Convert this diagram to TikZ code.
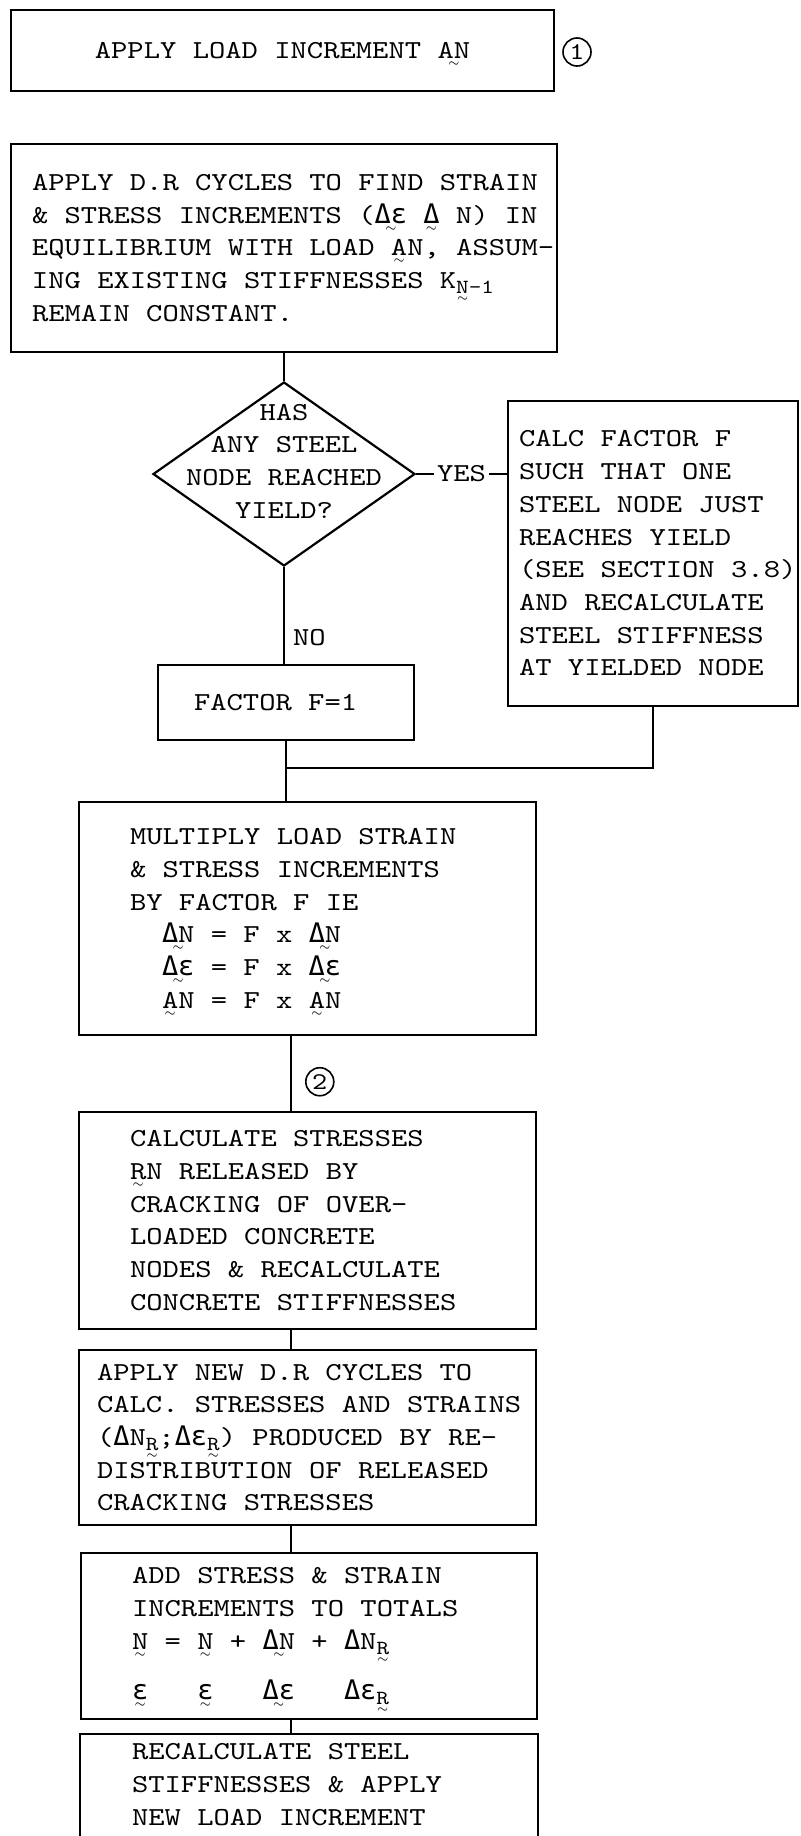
\documentclass[tikz,border=0pt]{standalone}
\usepackage{fontspec}
\setmonofont{lmmono10-regular.otf}[FakeStretch=1.2]
\newfontfamily\grk{DejaVu Sans Mono}[Scale=1.04]
\usetikzlibrary{shapes.geometric, calc}

\newdimen\px \px=0.5pt
% greek letters in a typewriter face
\newcommand{\dlt}{{\grk Δ}}
\newcommand{\eps}{{\grk ε}}
% tilde written under a symbol (vector mark)
\newcommand{\vtil}[1]{\leavevmode{\setbox0\hbox{#1}\rlap{\makebox[\wd0]{\raisebox{-4pt}[0pt][0pt]{\fontsize{6pt}{6pt}\selectfont$\sim$}}}\box0}}
% lowered subscript
\newcommand{\sub}[1]{\raisebox{-0.45ex}{\fontsize{10pt}{10pt}\selectfont #1}}
% left padded block of lines inside a box of given width
\newcommand{\boxlines}[3]{\hspace*{#1\px}\parbox[c]{\dimexpr#2\px-#1\px\relax}{\raggedright #3}}

\begin{document}
\begin{tikzpicture}[
		x=0.5pt, y=-0.5pt, line width=1.1pt,
		every node/.style={font=\ttfamily\fontsize{12.95pt}{16.35pt}\selectfont},
		box/.style={draw, rectangle, inner sep=0pt},
		decision/.style={draw, diamond, inner sep=0pt,
			minimum width=262\px, minimum height=184\px},
		circ/.style={draw, circle, minimum size=28\px, inner sep=0pt,
			line width=0.8pt, font=\ttfamily\fontsize{12pt}{12pt}\selectfont}
		]
		\useasboundingbox (0,0) rectangle (800,1836);
		
		\node[box, minimum width=543\px, minimum height=81\px] (load) at (282.5,50.5)
		{APPLY LOAD INCREMENT \vtil{AN}};
		\node[circ] (one) at (577,52) {1};
		
		\node[box, minimum width=546\px, minimum height=208\px] (dr) at (284,248)
		{\boxlines{21}{546}{APPLY D.R CYCLES TO FIND STRAIN\\
				\& STRESS INCREMENTS (\vtil{\dlt\eps} \vtil{\dlt} N) IN\\
				EQUILIBRIUM WITH LOAD \vtil{A}N, ASSUM-\\
				ING EXISTING STIFFNESSES K\sub{\vtil{N}-1}\\
				REMAIN CONSTANT.}};
		
		\node[decision] (ask) at (284,474) {};
		\node[align=center] (asktext) at (284,461)
		{HAS\\ANY STEEL\\NODE REACHED\\YIELD?};
		
		\node[box, minimum width=290\px, minimum height=305\px] (calc) at (653,553.5)
		{\boxlines{11}{290}{CALC FACTOR F\\
				SUCH THAT ONE\\
				STEEL NODE JUST\\
				REACHES YIELD\\
				(SEE SECTION 3.8)\\
				AND RECALCULATE\\
				STEEL STIFFNESS\\
				AT YIELDED NODE}};
		
		\node[box, minimum width=256\px, minimum height=75\px] (factor) at (286,702.5)
		{\boxlines{36}{256}{FACTOR F=1}};
		\coordinate (join) at (286,768);
		
		\node[box, minimum width=457\px, minimum height=233\px] (mult) at (307.5,918.5)
		{\boxlines{51}{457}{MULTIPLY LOAD STRAIN\\
				\& STRESS INCREMENTS\\
				BY FACTOR F IE\\
				\hspace*{32\px}\vtil{\dlt N} = F x \vtil{\dlt N}\\
				\hspace*{32\px}\vtil{\dlt\eps} = F x \vtil{\dlt\eps}\\
				\hspace*{32\px}\vtil{A}N = F x \vtil{A}N}};
		
		\coordinate (spine) at (291,0);
		
		\node[box, minimum width=457\px, minimum height=217\px] (release) at (307.5,1220.5)
		{\boxlines{51}{457}{CALCULATE STRESSES\\
				\vtil{R}N RELEASED BY\\
				CRACKING OF OVER-\\
				LOADED CONCRETE\\
				NODES \& RECALCULATE\\
				CONCRETE STIFFNESSES}};
		
		\node[box, minimum width=457\px, minimum height=175\px] (redist) at (307.5,1437.5)
		{\boxlines{18}{457}{APPLY NEW D.R CYCLES TO\\
				CALC. STRESSES AND STRAINS\\
				(\dlt N\sub{\vtil{R}};\dlt\eps\sub{\vtil{R}}) PRODUCED BY RE-\\
				DISTRIBUTION OF RELEASED\\
				CRACKING STRESSES}};
		
		\node[box, minimum width=456\px, minimum height=166\px] (totals) at (309,1636)
		{\boxlines{51}{456}{ADD STRESS \& STRAIN\\
				INCREMENTS TO TOTALS\\
				\vtil{N} = \vtil{N} + \vtil{\dlt N} + \dlt N\sub{\vtil{R}}\\[17\px]
				\leavevmode\rlap{\vtil{\eps}}\phantom{N = }\rlap{\vtil{\eps}}\phantom{N + }\rlap{\vtil{\dlt\eps}}\phantom{\dlt N + }\dlt\eps\sub{\vtil{R}}}};
		
		\node[rectangle, inner sep=0pt, minimum width=456\px, minimum height=99\px] (recalc) at (309,1784.5)
		{\boxlines{51}{456}{RECALCULATE STEEL\\
				STIFFNESSES \& APPLY\\
				NEW LOAD INCREMENT}};
		\draw ($(recalc.south west)+(0,10)$) -- (recalc.north west)
		-- (recalc.north east) -- ($(recalc.south east)+(0,10)$);
		
		% connectors
		\draw (dr.south) -- (ask.north);
		\draw (ask.east) -- (ask.east -| calc.west)
		node[midway, fill=white, inner xsep=3\px, inner ysep=0pt] {YES};
		\draw (ask.south) -- (ask.south |- factor.north)
		node[pos=0.73, anchor=west, inner xsep=8\px] {NO};
		\draw (factor.south) -- (factor.south |- mult.north);
		\draw (calc.south) |- (join);
		\draw (mult.south -| spine) -- (release.north -| spine)
		node[circ, pos=0.61, anchor=west, xshift=14\px] (two) {2};
		\draw (release.south -| spine) -- (redist.north -| spine);
		\draw (redist.south -| spine) -- (totals.north -| spine);
		\draw (totals.south -| spine) -- (recalc.north -| spine);
	\end{tikzpicture}
\end{document}
